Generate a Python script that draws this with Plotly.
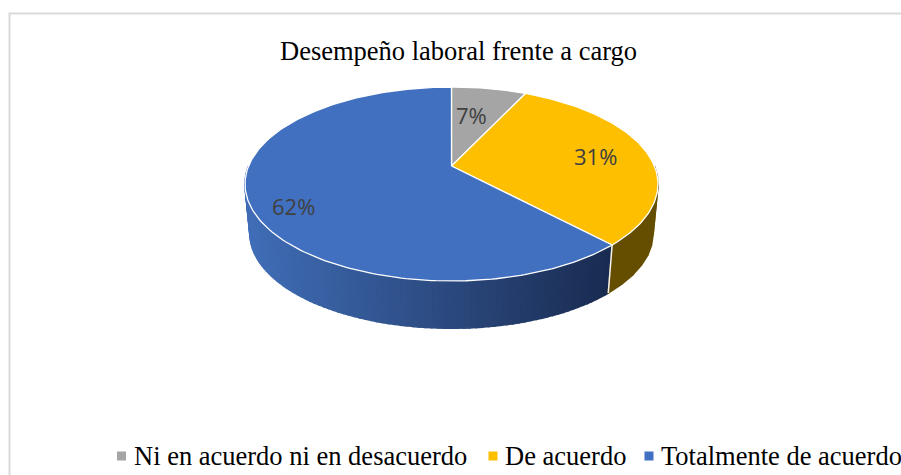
import numpy as np
import plotly.graph_objects as go

# --- data ---
title = "Desempeño laboral frente a cargo"
categories = ["Ni en acuerdo ni en desacuerdo", "De acuerdo", "Totalmente de acuerdo"]
values = [7, 31, 62]
colors = ["#A5A5A5", "#FDBF00", "#4170C0"]
label_color = "#404040"

# --- page-pixel geometry of the tilted pie ---
W, H = 901, 475
cx, cy = 451.5, 166.0          # apex of the top face
a, b, k = 202.9, 93.66, -0.1856  # perspective projection of the unit circle
depth_dy, depth_s = 50.0, 0.976  # lower rim: shift and scale

def project(theta, r=1.0, s=1.0, dy=0.0):
    """theta in degrees clockwise from 12 o'clock."""
    t = np.radians(theta)
    u, v = r * np.sin(t), -r * np.cos(t)
    den = 1 + k * v
    return cx + s * a * u / den, cy + dy + s * b * v / den

def arc(t0, t1, n=None, **kw):
    n = n or max(2, int(abs(t1 - t0)) + 2)
    return project(np.linspace(t0, t1, n), **kw)

def lerp_color(c0, c1, f):
    return "rgb(%d,%d,%d)" % tuple(round(p + (q - p) * f) for p, q in zip(c0, c1))

total = sum(values)
edges = np.concatenate([[0], np.cumsum(values)]) / total * 360

fig = go.Figure()

def poly(xs, ys, fill, line=None, width=0.0):
    fig.add_trace(go.Scatter(
        x=xs, y=ys, mode="lines", fill="toself", fillcolor=fill,
        line=dict(color=line or fill, width=width),
        hoverinfo="skip", showlegend=False))

def side(t0, t1, color_fn, step=1.5):
    ts = np.linspace(t0, t1, max(2, int(abs(t1 - t0) / step) + 2))
    for p, q in zip(ts[:-1], ts[1:]):
        xt, yt = arc(p, q, 3)
        xb, yb = arc(q, p, 3, s=depth_s, dy=depth_dy)
        poly(np.r_[xt, xb, xt[0]], np.r_[yt, yb, yt[0]],
             color_fn(np.mean(xt)), width=1.6)

# outer wall of the large slice with a left-to-right shading, and of the middle slice
dark_left, dark_right = (64, 109, 182), (25, 43, 80)
side(edges[2], 270, lambda x: lerp_color(dark_right, dark_left, np.clip((612 - x) / 362, 0, 1)))
side(90, edges[2], lambda x: "#654E00", step=12)

# white seam between the two visible walls
sx0, sy0 = project(edges[2])
sx1, sy1 = project(edges[2], s=depth_s, dy=depth_dy)
fig.add_trace(go.Scatter(x=[sx0, sx1], y=[sy0, sy1], mode="lines",
                         line=dict(color="#F2F2F2", width=1.5),
                         hoverinfo="skip", showlegend=False))

# top faces
for i, col in enumerate(colors):
    xs, ys = arc(edges[i], edges[i + 1])
    poly(np.r_[cx, xs, cx], np.r_[cy, ys, cy], col, line="#FFFFFF", width=1.3)

# percentage labels
label_r = [0.62, 0.73, 0.80]
label_dx = [-5, 1, 2]
label_dy = [0, 0, 11]
for i, v in enumerate(values):
    mid = (edges[i] + edges[i + 1]) / 2
    lx, ly = project(mid, r=label_r[i])
    fig.add_annotation(x=lx + label_dx[i], y=ly + label_dy[i], text=f"{v}%", showarrow=False,
                       font=dict(family="Open Sans", size=22, color=label_color))

# legend row
legend_marker_x = [121.5, 493, 649]
legend_text_x = [133, 504, 660]
legend_y = 456
for name, col, mx, tx in zip(categories, colors, legend_marker_x, legend_text_x):
    fig.add_trace(go.Scatter(x=[mx], y=[legend_y], mode="markers",
                             marker=dict(symbol="square", size=9, color=col),
                             hoverinfo="skip", showlegend=False, cliponaxis=False))
    fig.add_annotation(x=tx - 1, y=legend_y, text=name, showarrow=False, xanchor="left",
                       font=dict(family="Liberation Serif", size=26.5, color="#000000"))

# title
fig.add_annotation(x=458, y=51, text=title, showarrow=False,
                   font=dict(family="Liberation Serif", size=26.5, color="#000000"))

# chart-area frame, running off the crop on the right and bottom
fig.add_shape(type="rect", x0=9.5, y0=13.5, x1=W + 10, y1=H + 10,
              line=dict(color="#D9D9D9", width=2), fillcolor="rgba(0,0,0,0)", layer="below")

fig.update_layout(
    width=W, height=H, margin=dict(l=0, r=0, t=0, b=0),
    paper_bgcolor="#FFFFFF", plot_bgcolor="#FFFFFF", showlegend=False,
    xaxis=dict(range=[0, W], visible=False, fixedrange=True),
    yaxis=dict(range=[H, 0], visible=False, fixedrange=True),
)

fig.write_html("out.html", config={"displayModeBar": False},
               post_script="document.body.style.margin='0';document.body.style.overflow='hidden';")
